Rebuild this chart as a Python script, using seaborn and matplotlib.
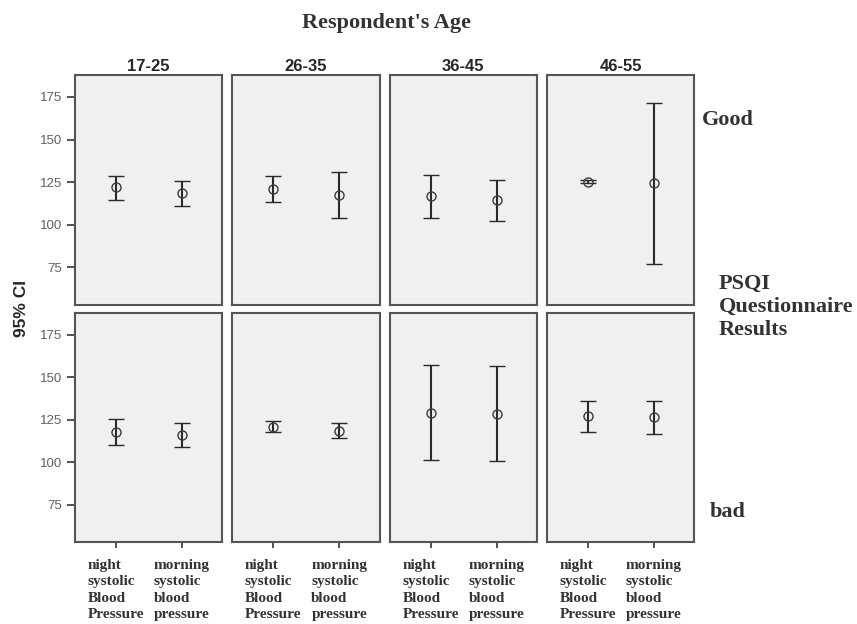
import pandas as pd
import matplotlib.pyplot as plt
import seaborn as sns

# summary values (mean, lower and upper 95% CI)
ages = ["17-25", "26-35", "36-45", "46-55"]
quality = ["Good", "bad"]
measures = ["night\nsystolic\nBlood\nPressure", "morning\nsystolic\nblood\npressure"]

good_mean = [122.0, 118.4, 121.0, 117.5, 117.0, 114.5, 125.2, 124.4]
good_low = [114.5, 111.2, 113.0, 104.0, 104.0, 102.0, 124.2, 76.7]
good_high = [128.7, 125.8, 128.5, 131.0, 129.0, 126.0, 126.0, 171.5]

bad_mean = [117.9, 116.0, 121.0, 118.5, 129.0, 128.6, 127.3, 126.5]
bad_low = [110.0, 108.9, 118.0, 114.5, 101.6, 101.0, 118.1, 116.7]
bad_high = [125.6, 123.3, 124.0, 123.0, 156.9, 156.7, 136.3, 136.3]

rows = []
for q, means, lows, highs in [("Good", good_mean, good_low, good_high),
                              ("bad", bad_mean, bad_low, bad_high)]:
    for i, (m, lo, hi) in enumerate(zip(means, lows, highs)):
        rows.append({"quality": q, "age": ages[i // 2], "measure": measures[i % 2],
                     "mean": m, "low": lo, "high": hi})
df = pd.DataFrame(rows)

sns.set_theme(style="ticks")
plt.rcParams["font.family"] = ["Liberation Sans", "DejaVu Sans"]
SERIF = ["Liberation Serif", "DejaVu Serif"]


def ci_bars(data, **kws):
    ax = plt.gca()
    ax.errorbar(data["measure"], data["mean"],
                yerr=[data["mean"] - data["low"], data["high"] - data["mean"]],
                fmt="o", mfc="none", mec="#3a3a3a", ms=6.5, mew=1.0,
                ecolor="#2a2a2a", elinewidth=1.5, capsize=6, capthick=1.5)


g = sns.FacetGrid(df, row="quality", col="age", row_order=quality, col_order=ages,
                  sharex=True, sharey=True, despine=False)
g.map_dataframe(ci_bars)
g.figure.set_size_inches(8.57, 6.24)
g.figure.subplots_adjust(left=0.0875, right=0.81, top=0.88, bottom=0.131,
                         wspace=0.068, hspace=0.035)
g.set(ylim=(53, 188), xlim=(-0.62, 1.61), yticks=[75, 100, 125, 150, 175])
g.set_titles("")
g.set_axis_labels("", "")

for i, row_axes in enumerate(g.axes):
    for j, ax in enumerate(row_axes):
        ax.set_facecolor("#f0f0f0")
        for s in ax.spines.values():
            s.set_color("#555555")
            s.set_linewidth(1.5)
        ax.tick_params(axis="y", length=6, width=1.2, color="#333333",
                       labelsize=9.5, labelcolor="#606060", left=(j == 0))
        ax.tick_params(axis="x", length=4, width=1.2, color="#333333")
        if i == 0:
            ax.set_title(ages[j], fontsize=12, fontweight="bold", pad=3)
            ax.tick_params(axis="x", bottom=False, labelbottom=False)
        else:
            ax.set_xticks(range(len(measures)))
            ax.set_xticklabels(measures, family=SERIF, fontsize=11,
                               fontweight="bold", color="#333333",
                               linespacing=1.33, multialignment="left")
            ax.tick_params(axis="x", pad=8)

fig = g.figure
fig.text(0.451, 0.963, "Respondent's Age", family=SERIF, fontsize=16,
         fontweight="bold", color="#333333", ha="center", va="center")
fig.text(0.025, 0.505, "95% CI", fontsize=12.5, fontweight="bold", rotation=90,
         ha="center", va="center")
fig.text(0.819, 0.808, "Good", family=SERIF, fontsize=16,
         fontweight="bold", color="#333333", va="center")
fig.text(0.828, 0.18, "bad", family=SERIF, fontsize=16,
         fontweight="bold", color="#333333", va="center")
fig.text(0.839, 0.508, "PSQI\nQuestionnaire\nResults", family=SERIF,
         fontsize=16, fontweight="bold", color="#333333", va="center",
         linespacing=1.22)

fig.savefig("out.png", dpi=100)
